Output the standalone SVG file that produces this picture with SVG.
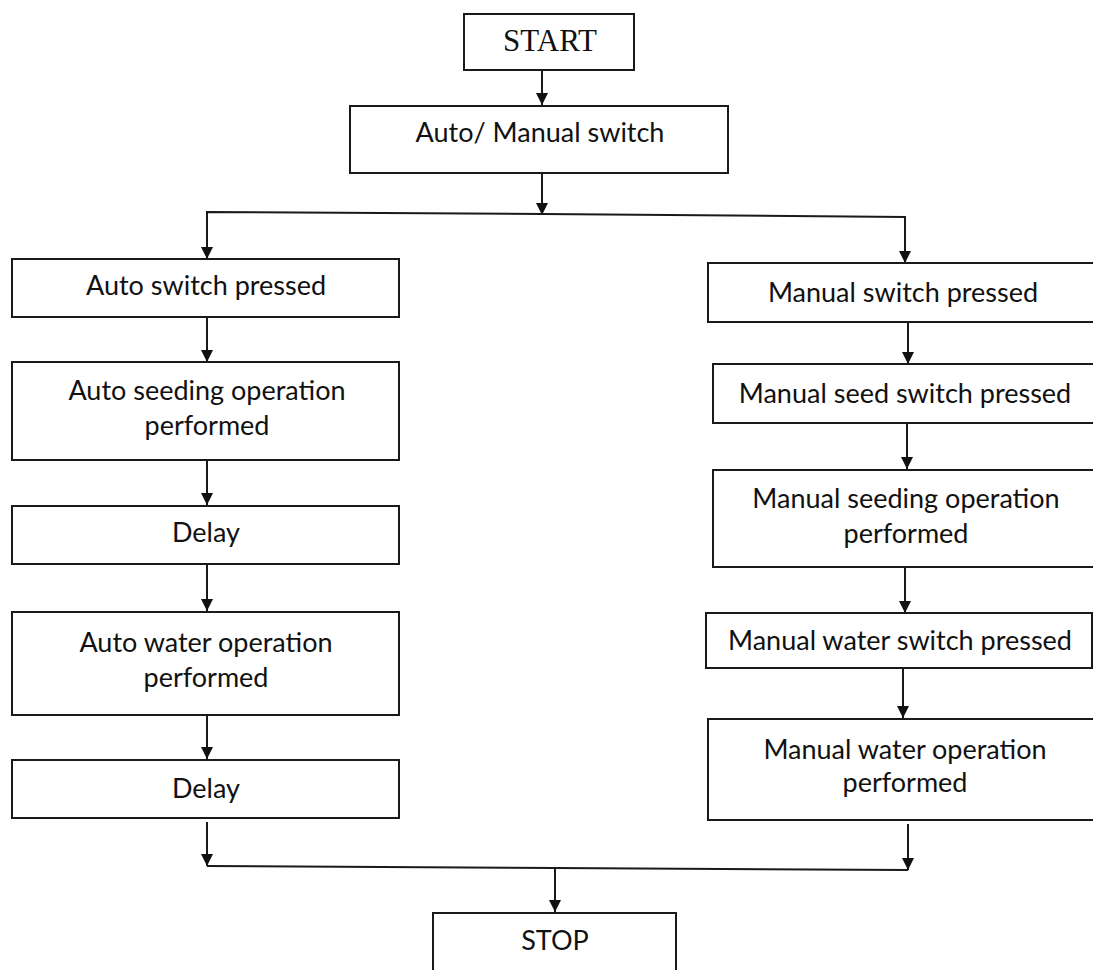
<svg xmlns="http://www.w3.org/2000/svg" width="1093" height="970" viewBox="0 0 1093 970">
<style>
.box{fill:#fff;stroke:#1a1a1a;stroke-width:2}
.t{font-family:Lato,"Open Sans",sans-serif;font-size:27px;fill:#111;text-anchor:middle}
.s{font-family:"Liberation Serif","Times New Roman",serif;font-size:31px;fill:#111;text-anchor:middle}
.c{fill:none;stroke:#1a1a1a;stroke-width:2}
</style>
<defs>
<marker id="ah" viewBox="0 0 12 12" refX="12" refY="6" markerWidth="12" markerHeight="12" markerUnits="userSpaceOnUse" orient="auto">
<path d="M0,0 L12,6 L0,12 z" fill="#111"/>
</marker>
</defs>
<rect width="1093" height="970" fill="#fff"/>
<g id="connectors">
<line class="c" x1="542" y1="70" x2="542" y2="105" marker-end="url(#ah)"/>
<line class="c" x1="542" y1="173" x2="542" y2="215" marker-end="url(#ah)"/>
<polyline class="c" points="207,259 207,212 542,214 905,217 905,263" />
<line class="c" x1="207" y1="240" x2="207" y2="259" marker-end="url(#ah)"/>
<line class="c" x1="905" y1="240" x2="905" y2="263" marker-end="url(#ah)"/>
<line class="c" x1="207" y1="317" x2="207" y2="362" marker-end="url(#ah)"/>
<line class="c" x1="207" y1="460" x2="207" y2="505" marker-end="url(#ah)"/>
<line class="c" x1="207" y1="564" x2="207" y2="611" marker-end="url(#ah)"/>
<line class="c" x1="207" y1="715" x2="207" y2="759" marker-end="url(#ah)"/>
<line class="c" x1="908" y1="322" x2="908" y2="364" marker-end="url(#ah)"/>
<line class="c" x1="907" y1="423" x2="907" y2="469" marker-end="url(#ah)"/>
<line class="c" x1="905" y1="567" x2="905" y2="613" marker-end="url(#ah)"/>
<line class="c" x1="903" y1="668" x2="903" y2="718" marker-end="url(#ah)"/>
<line class="c" x1="207" y1="822" x2="207" y2="866" marker-end="url(#ah)"/>
<line class="c" x1="908" y1="824" x2="908" y2="870" marker-end="url(#ah)"/>
<polyline class="c" points="207,866 555,868 908,870"/>
<line class="c" x1="555" y1="867" x2="555" y2="912" marker-end="url(#ah)"/>
</g>
<g id="start"><rect class="box" x="464" y="14" width="170" height="56"/><text class="s" x="550" y="51">START</text></g>
<g id="mode"><rect class="box" x="350" y="106" width="378" height="67"/><text class="t" x="540" y="142">Auto/ Manual switch</text></g>
<g id="auto-pressed"><rect class="box" x="12" y="259" width="387" height="58"/><text class="t" x="206" y="295">Auto switch pressed</text></g>
<g id="auto-seed"><rect class="box" x="12" y="362" width="387" height="98"/><text class="t" x="207" y="400">Auto seeding operation</text><text class="t" x="207" y="435">performed</text></g>
<g id="delay1"><rect class="box" x="12" y="506" width="387" height="58"/><text class="t" x="206" y="542">Delay</text></g>
<g id="auto-water"><rect class="box" x="12" y="612" width="387" height="103"/><text class="t" x="206" y="652">Auto water operation</text><text class="t" x="206" y="687">performed</text></g>
<g id="delay2"><rect class="box" x="12" y="760" width="387" height="58"/><text class="t" x="206" y="798">Delay</text></g>
<g id="manual-pressed"><rect class="box" x="708" y="263" width="400" height="59"/><text class="t" x="903" y="302">Manual switch pressed</text></g>
<g id="manual-seed-switch"><rect class="box" x="713" y="364" width="395" height="59"/><text class="t" x="905" y="403">Manual seed switch pressed</text></g>
<g id="manual-seed-op"><rect class="box" x="713" y="470" width="395" height="97"/><text class="t" x="906" y="508">Manual seeding operation</text><text class="t" x="906" y="543">performed</text></g>
<g id="manual-water-switch"><rect class="box" x="706" y="613" width="386" height="55"/><text class="t" x="900" y="650">Manual water switch pressed</text></g>
<g id="manual-water-op"><rect class="box" x="708" y="719" width="400" height="101"/><text class="t" x="905" y="759">Manual water operation</text><text class="t" x="905" y="792">performed</text></g>
<g id="stop"><rect class="box" x="433" y="913" width="243" height="70"/><text class="t" x="555" y="950">STOP</text></g>
</svg>
